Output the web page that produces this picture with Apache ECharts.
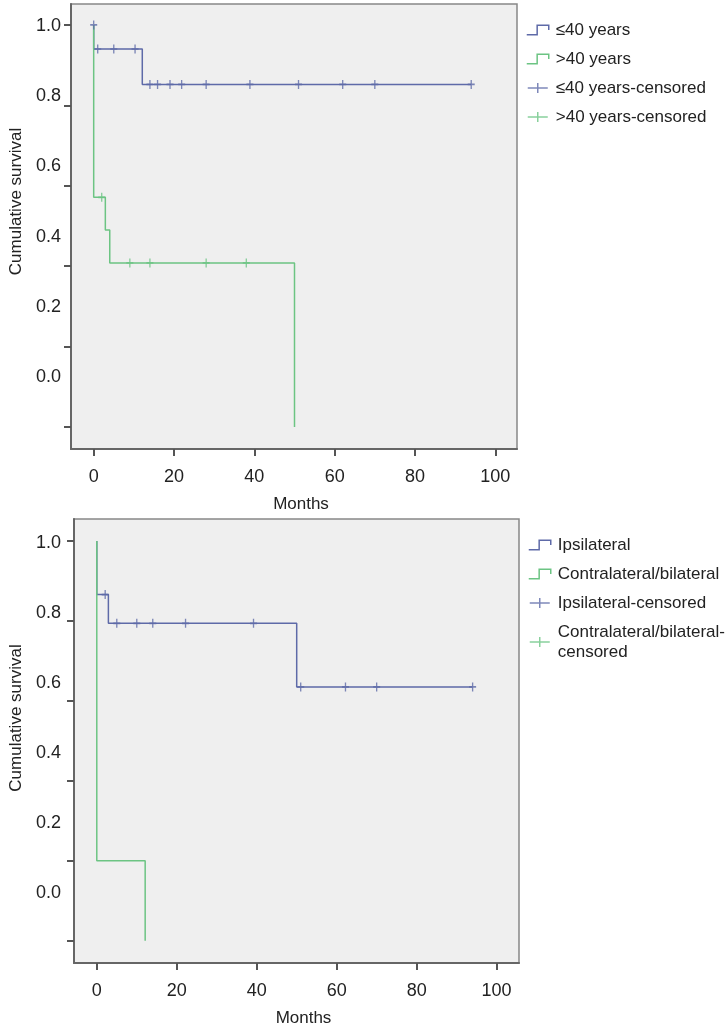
<!DOCTYPE html>
<html>
<head>
<meta charset="utf-8">
<script src="https://cdn.jsdelivr.net/npm/echarts@6/dist/echarts.min.js"></script>
<style>
html, body { margin: 0; padding: 0; background: #fff; }
#chart { width: 727px; height: 1028px; }
</style>
</head>
<body>
<div id="chart"></div>
<script>
// axis ticks
var monthTicks = [0, 20, 40, 60, 80, 100];
var survTicks = [0, 0.2, 0.4, 0.6, 0.8, 1.0];

// top panel - age groups (step points: time, survival after event)
var ageLeTimes = [0, 0, 12.1, 94];
var ageLeSurv = [1, 0.94, 0.852, 0.852];
var ageGtTimes = [0, 0, 2.9, 4.0, 50];
var ageGtSurv = [1, 0.571, 0.49, 0.408, 0];
var ageLeCensTimes = [0, 1, 5, 10.3, 14, 15.9, 19, 21.9, 28, 38.9, 51, 62, 70, 94];
var ageLeCensSurv = [1, 0.94, 0.94, 0.94, 0.852, 0.852, 0.852, 0.852, 0.852, 0.852, 0.852, 0.852, 0.852, 0.852];
var ageGtCensTimes = [2, 9, 14, 28, 38];
var ageGtCensSurv = [0.571, 0.408, 0.408, 0.408, 0.408];

// bottom panel - side
var ipsiTimes = [0, 0, 2.9, 50, 94];
var ipsiSurv = [1, 0.866, 0.794, 0.635, 0.635];
var contraTimes = [0, 0, 12.1];
var contraSurv = [1, 0.2, 0];
var ipsiCensTimes = [2.1, 5, 10, 14, 22.2, 39.2, 51, 62.2, 70, 94];
var ipsiCensSurv = [0.866, 0.794, 0.794, 0.794, 0.794, 0.794, 0.635, 0.635, 0.635, 0.635];
var contraCensTimes = [];
var contraCensSurv = [];

var BLUE = '#5e6aa8';
var GREEN = '#6cc483';
var FONT = 'Liberation Sans';
var STEP_ICON = 'path://M0,9L9,9L9,1L19,1L19,5';
var CENS_ICON = 'path://M0,5L20,5M10,0L10,10';
var CENS_MARK = 'path://M0,5L8,5M4,0L4,10';

function zip(a, b) {
  return a.map(function (v, i) { return [v, b[i]]; });
}

function mainX(grid, min, max) {
  return {
    gridIndex: grid, type: 'value', min: min, max: max,
    name: 'Months', nameLocation: 'middle', nameGap: 47,
    nameTextStyle: { fontFamily: FONT, fontSize: 17, color: '#222', padding: [0, 0, 0, 14] },
    axisLine: { show: true, onZero: false, lineStyle: { color: '#666', width: 2 } },
    axisTick: { show: true, length: 7, customValues: monthTicks, lineStyle: { color: '#555', width: 2 } },
    axisLabel: { customValues: monthTicks, margin: 19, fontFamily: FONT, fontSize: 18, color: '#222' },
    splitLine: { show: false }
  };
}
function mainY(grid, min, max) {
  return {
    gridIndex: grid, type: 'value', min: min, max: max,
    axisLine: { show: true, onZero: false, lineStyle: { color: '#666', width: 2 } },
    axisTick: { show: true, length: 7, customValues: survTicks, lineStyle: { color: '#555', width: 2 } },
    axisLabel: { show: false },
    splitLine: { show: false }
  };
}
function labelY(grid, margin, gap) {
  return {
    gridIndex: grid, type: 'value', min: 0, max: 1, interval: 0.2,
    name: 'Cumulative survival', nameLocation: 'middle', nameGap: gap,
    nameTextStyle: { fontFamily: FONT, fontSize: 17, color: '#222' },
    axisLine: { show: false, onZero: false }, axisTick: { show: false }, splitLine: { show: false },
    axisLabel: {
      margin: margin, fontFamily: FONT, fontSize: 18, color: '#222',
      formatter: function (v) { return v.toFixed(1); }
    }
  };
}
function hiddenX(grid) {
  return { gridIndex: grid, type: 'value', min: 0, max: 1, show: false };
}
function stepSeries(name, color, axis, data) {
  return {
    name: name, type: 'line', step: 'end', xAxisIndex: axis, yAxisIndex: axis,
    data: data, symbol: 'none', showSymbol: false, silent: true,
    lineStyle: { color: color, width: 1.5 }, itemStyle: { color: color }
  };
}
function censSeries(name, color, axis, data) {
  return {
    name: name, type: 'scatter', xAxisIndex: axis, yAxisIndex: axis, z: 5,
    data: data, symbol: CENS_MARK, symbolSize: [7, 9], silent: true,
    itemStyle: { color: 'rgba(0,0,0,0)', borderColor: color, borderWidth: 1.5 }
  };
}
function legendItem(name, icon, color) {
  return { name: name, icon: icon, itemStyle: { color: 'rgba(0,0,0,0)', borderColor: color, borderWidth: 1.5 } };
}
function legendBox(left, top, items) {
  return {
    orient: 'vertical', left: left, top: top, itemWidth: 22, itemHeight: 10, itemGap: 9,
    selectedMode: false,
    textStyle: { fontFamily: FONT, fontSize: 17, color: '#222', lineHeight: 20, padding: [0, 0, 0, 2] },
    formatter: function (n) {
      return n === 'Contralateral/bilateral-censored' ? 'Contralateral/bilateral-\ncensored' : n;
    },
    data: items
  };
}

var chart = echarts.init(document.getElementById('chart'));
chart.setOption({
  animation: false,
  backgroundColor: '#fff',
  grid: [
    { left: 71, top: 4, width: 446, height: 445, show: true, backgroundColor: '#efefef', borderColor: '#888', borderWidth: 1.5 },
    { left: 71, top: 26, width: 446, height: 351 },
    { left: 74, top: 519, width: 445, height: 446, show: true, backgroundColor: '#efefef', borderColor: '#888', borderWidth: 1.5 },
    { left: 74, top: 543, width: 445, height: 350 }
  ],
  xAxis: [mainX(0, -5.65, 105.4), hiddenX(1), mainX(2, -5.7, 105.6), hiddenX(3)],
  yAxis: [mainY(0, -0.055, 1.052), labelY(1, 20, 52), mainY(2, -0.0555, 1.055), labelY(3, 21, 55)],
  legend: [
    legendBox(521, 15, [
      legendItem('≤40 years', STEP_ICON, BLUE),
      legendItem('>40 years', STEP_ICON, GREEN),
      legendItem('≤40 years-censored', CENS_ICON, BLUE),
      legendItem('>40 years-censored', CENS_ICON, GREEN)
    ]),
    legendBox(523, 530, [
      legendItem('Ipsilateral', STEP_ICON, BLUE),
      legendItem('Contralateral/bilateral', STEP_ICON, GREEN),
      legendItem('Ipsilateral-censored', CENS_ICON, BLUE),
      legendItem('Contralateral/bilateral-censored', CENS_ICON, GREEN)
    ])
  ],
  series: [
    stepSeries('≤40 years', BLUE, 0, zip(ageLeTimes, ageLeSurv)),
    stepSeries('>40 years', GREEN, 0, zip(ageGtTimes, ageGtSurv)),
    censSeries('≤40 years-censored', BLUE, 0, zip(ageLeCensTimes, ageLeCensSurv)),
    censSeries('>40 years-censored', GREEN, 0, zip(ageGtCensTimes, ageGtCensSurv)),
    stepSeries('Ipsilateral', BLUE, 2, zip(ipsiTimes, ipsiSurv)),
    stepSeries('Contralateral/bilateral', GREEN, 2, zip(contraTimes, contraSurv)),
    censSeries('Ipsilateral-censored', BLUE, 2, zip(ipsiCensTimes, ipsiCensSurv)),
    censSeries('Contralateral/bilateral-censored', GREEN, 2, zip(contraCensTimes, contraCensSurv))
  ]
});
</script>
</body>
</html>
